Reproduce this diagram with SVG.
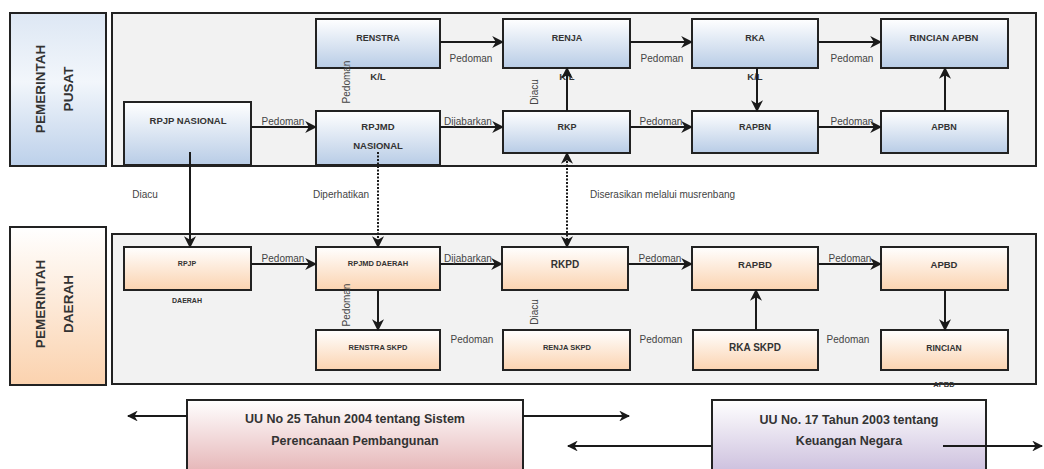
<svg xmlns="http://www.w3.org/2000/svg" width="1044" height="469" viewBox="0 0 1044 469">
<defs>
<linearGradient id="gBlue" x1="0" y1="0" x2="0" y2="1"><stop offset="0" stop-color="#ffffff"/><stop offset="1" stop-color="#b8cce6"/></linearGradient>
<linearGradient id="gPeach" x1="0" y1="0" x2="0" y2="1"><stop offset="0" stop-color="#ffffff"/><stop offset="1" stop-color="#fbd3b0"/></linearGradient>
<linearGradient id="gPusat" x1="0" y1="0" x2="0" y2="1"><stop offset="0" stop-color="#dde7f4"/><stop offset="0.45" stop-color="#f2f6fb"/><stop offset="1" stop-color="#bcd0ea"/></linearGradient>
<linearGradient id="gDaerah" x1="0" y1="0" x2="0" y2="1"><stop offset="0" stop-color="#ffffff"/><stop offset="1" stop-color="#fbd2ae"/></linearGradient>
<linearGradient id="gUU25" x1="0" y1="0" x2="0" y2="1"><stop offset="0" stop-color="#ffffff"/><stop offset="1" stop-color="#e3aeb0"/></linearGradient>
<linearGradient id="gUU17" x1="0" y1="0" x2="0" y2="1"><stop offset="0" stop-color="#ffffff"/><stop offset="1" stop-color="#c7b9da"/></linearGradient>
<marker id="ah" viewBox="0 0 10 10" refX="9" refY="5" markerWidth="6" markerHeight="6" orient="auto-start-reverse" markerUnits="strokeWidth">
<path d="M0,0 L10,5 L0,10 L3,5 z" fill="#1a1a1a"/>
</marker>
</defs>
<style>
.panel{fill:#f2f2f2;stroke:#222;stroke-width:2}
.nb{fill:url(#gBlue);stroke:#222;stroke-width:2}
.np{fill:url(#gPeach);stroke:#222;stroke-width:2}
.nt{font-family:"Liberation Sans",Arial,sans-serif;font-weight:bold;fill:#333;text-anchor:middle}
.el{font-family:"Liberation Sans",Arial,sans-serif;font-size:10px;fill:#444}
.ec{text-anchor:middle}
.big{font-family:"Liberation Sans",Arial,sans-serif;font-weight:bold;font-size:12.5px;fill:#333;text-anchor:middle}
.side{font-family:"Liberation Sans",Arial,sans-serif;font-weight:bold;font-size:13.5px;fill:#333;text-anchor:middle}
.c{fill:none;stroke:#1a1a1a;stroke-width:2;marker-end:url(#ah)}
.d{fill:none;stroke:#1a1a1a;stroke-width:2;stroke-dasharray:2,1.5;marker-end:url(#ah)}
.u{fill:none;stroke:#1a1a1a;stroke-width:1.8;marker-end:url(#ah)}
</style>
<rect width="1044" height="469" fill="#ffffff"/>

<g id="panel-pusat"><rect class="panel" x="112" y="13" width="924" height="153"/></g>
<g id="panel-daerah"><rect class="panel" x="112" y="234" width="924" height="150"/></g>

<g id="pemerintah-pusat">
<rect x="10" y="13" width="96" height="153" fill="url(#gPusat)" stroke="#222" stroke-width="2"/>
<text class="side" transform="translate(58,89) rotate(-90)"><tspan x="0" y="-13">PEMERINTAH</tspan><tspan x="0" y="15">PUSAT</tspan></text>
</g>
<g id="pemerintah-daerah">
<rect x="10" y="227" width="96" height="158" fill="url(#gDaerah)" stroke="#222" stroke-width="2"/>
<text class="side" transform="translate(58,304) rotate(-90)"><tspan x="0" y="-13">PEMERINTAH</tspan><tspan x="0" y="15">DAERAH</tspan></text>
</g>

<g id="renstra-kl"><rect class="nb" x="316" y="19" width="124" height="49"/><text class="nt" x="378" y="41" font-size="9">RENSTRA</text><text class="nt" x="378" y="80" font-size="9.5">K/L</text></g>
<g id="renja-kl"><rect class="nb" x="503" y="19" width="127" height="49"/><text class="nt" x="567" y="41" font-size="9">RENJA</text><text class="nt" x="567" y="80" font-size="9.5">K/L</text></g>
<g id="rka-kl"><rect class="nb" x="692" y="19" width="126" height="49"/><text class="nt" x="755" y="41" font-size="9">RKA</text><text class="nt" x="755" y="80" font-size="9.5">K/L</text></g>
<g id="rincian-apbn"><rect class="nb" x="881" y="19" width="127" height="49"/><text class="nt" x="944" y="41" font-size="9.5">RINCIAN APBN</text></g>
<g id="rpjp-nasional"><rect class="nb" x="124" y="102" width="127" height="63"/><text class="nt" x="188" y="124" font-size="9.5">RPJP NASIONAL</text></g>
<g id="rpjmd-nasional"><rect class="nb" x="316" y="111" width="124" height="54"/><text class="nt" x="378" y="130" font-size="9.5">RPJMD</text><text class="nt" x="378" y="149" font-size="9.5">NASIONAL</text></g>
<g id="rkp"><rect class="nb" x="503" y="111" width="127" height="42"/><text class="nt" x="567" y="130" font-size="9">RKP</text></g>
<g id="rapbn"><rect class="nb" x="692" y="111" width="126" height="42"/><text class="nt" x="755" y="130" font-size="9">RAPBN</text></g>
<g id="apbn"><rect class="nb" x="881" y="111" width="127" height="42"/><text class="nt" x="944" y="130" font-size="9">APBN</text></g>

<g id="rpjp-daerah"><rect class="np" x="124" y="247" width="127" height="43"/><text class="nt" x="187" y="266" font-size="7">RPJP</text><text class="nt" x="187" y="303" font-size="7">DAERAH</text></g>
<g id="rpjmd-daerah"><rect class="np" x="316" y="247" width="124" height="43"/><text class="nt" x="378" y="266" font-size="7.5">RPJMD DAERAH</text></g>
<g id="rkpd"><rect class="np" x="502" y="247" width="126" height="43"/><text class="nt" x="565" y="268" font-size="10">RKPD</text></g>
<g id="rapbd"><rect class="np" x="692" y="247" width="126" height="43"/><text class="nt" x="755" y="268" font-size="9.5">RAPBD</text></g>
<g id="apbd"><rect class="np" x="881" y="247" width="127" height="43"/><text class="nt" x="944" y="268" font-size="9.5">APBD</text></g>
<g id="renstra-skpd"><rect class="np" x="316" y="330" width="124" height="40"/><text class="nt" x="378" y="350" font-size="7.5">RENSTRA  SKPD</text></g>
<g id="renja-skpd"><rect class="np" x="503" y="330" width="127" height="40"/><text class="nt" x="567" y="350" font-size="7.5">RENJA SKPD</text></g>
<g id="rka-skpd"><rect class="np" x="693" y="330" width="125" height="40"/><text class="nt" x="755" y="351" font-size="10">RKA  SKPD</text></g>
<g id="rincian-apbd"><rect class="np" x="881" y="330" width="127" height="40"/><text class="nt" x="944" y="351" font-size="8.5">RINCIAN</text><text class="nt" x="944" y="387" font-size="7.5">APBD</text></g>

<g id="uu25"><rect x="187" y="400" width="336" height="80" fill="url(#gUU25)" stroke="#222" stroke-width="2"/><text class="big" x="355" y="423">UU No 25 Tahun 2004 tentang Sistem</text><text class="big" x="355" y="445">Perencanaan Pembangunan</text></g>
<g id="uu17"><rect x="712" y="400" width="274" height="80" fill="url(#gUU17)" stroke="#222" stroke-width="2"/><text class="big" x="849" y="424">UU No. 17 Tahun 2003 tentang</text><text class="big" x="849" y="445">Keuangan Negara</text></g>

<g id="connectors">
<line class="c" x1="440" y1="42" x2="503" y2="42"/>
<line class="c" x1="630" y1="42" x2="692" y2="42"/>
<line class="c" x1="818" y1="42" x2="881" y2="42"/>
<line class="c" x1="251" y1="127" x2="316" y2="127"/>
<line class="c" x1="440" y1="127" x2="503" y2="127"/>
<line class="c" x1="630" y1="127" x2="692" y2="127"/>
<line class="c" x1="818" y1="127" x2="881" y2="127"/>
<line class="c" x1="567" y1="111" x2="567" y2="68"/>
<line class="c" x1="757" y1="68" x2="757" y2="111"/>
<line class="c" x1="945" y1="111" x2="945" y2="68"/>
<line class="c" x1="190" y1="152" x2="190" y2="247"/>
<line class="d" x1="378" y1="152" x2="378" y2="247"/>
<line class="d" x1="567" y1="247" x2="567" y2="153" style="marker-start:url(#ah)"/>
<line class="c" x1="251" y1="264" x2="316" y2="264"/>
<line class="c" x1="440" y1="264" x2="502" y2="264"/>
<line class="c" x1="628" y1="264" x2="692" y2="264"/>
<line class="c" x1="818" y1="264" x2="881" y2="264"/>
<line class="c" x1="378" y1="290" x2="378" y2="330"/>
<line class="c" x1="756" y1="330" x2="756" y2="290"/>
<line class="c" x1="945" y1="290" x2="945" y2="330"/>
<line class="u" x1="187" y1="416" x2="128" y2="416"/>
<line class="u" x1="523" y1="416" x2="629" y2="416"/>
<line class="u" x1="712" y1="446" x2="568" y2="446"/>
<line class="u" x1="943" y1="446" x2="1042" y2="446"/>
</g>

<g id="labels">
<text class="el ec" x="471" y="62">Pedoman</text>
<text class="el ec" x="662" y="62">Pedoman</text>
<text class="el ec" x="852" y="62">Pedoman</text>
<text class="el ec" x="283" y="125">Pedoman</text>
<text class="el ec" x="468" y="125">Dijabarkan</text>
<text class="el ec" x="661" y="125">Pedoman</text>
<text class="el ec" x="852" y="125">Pedoman</text>
<text class="el ec" transform="translate(350,82) rotate(-90)">Pedoman</text>
<text class="el ec" transform="translate(538,92) rotate(-90)">Diacu</text>
<text class="el ec" x="145" y="198">Diacu</text>
<text class="el ec" x="341" y="198">Diperhatikan</text>
<text class="el" x="590" y="198">Diserasikan melalui musrenbang</text>
<text class="el ec" x="283" y="262">Pedoman</text>
<text class="el ec" x="468" y="262">Dijabarkan</text>
<text class="el ec" x="660" y="262">Pedoman</text>
<text class="el ec" x="850" y="262">Pedoman</text>
<text class="el ec" transform="translate(350,305) rotate(-90)">Pedoman</text>
<text class="el ec" transform="translate(538,312) rotate(-90)">Diacu</text>
<text class="el ec" x="472" y="343">Pedoman</text>
<text class="el ec" x="661" y="343">Pedoman</text>
<text class="el ec" x="848" y="343">Pedoman</text>
</g>
</svg>
